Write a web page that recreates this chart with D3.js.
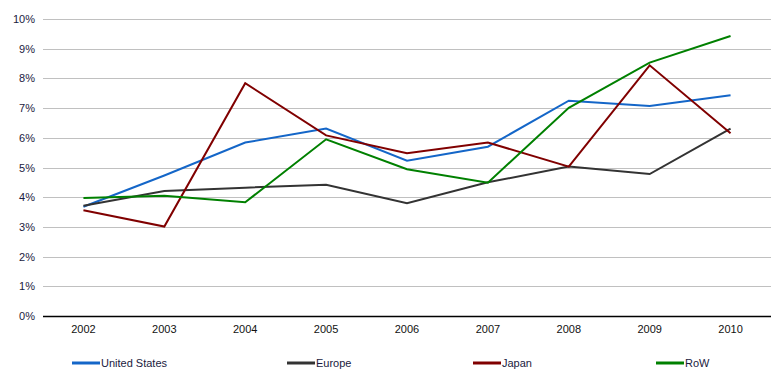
<!DOCTYPE html>
<html>
<head>
<meta charset="utf-8">
<script src="https://cdn.jsdelivr.net/npm/d3@7"></script>
<style>
  body { margin: 0; background: #fff; }
  text { font-family: "Liberation Sans", Arial, sans-serif; font-size: 11px; fill: #111; }
</style>
</head>
<body>
<div id="chart"></div>
<script>
var years = ["2002", "2003", "2004", "2005", "2006", "2007", "2008", "2009", "2010"];
var yTicks = [0, 1, 2, 3, 4, 5, 6, 7, 8, 9, 10];
var unitedStates = [3.68, 4.73, 5.84, 6.31, 5.23, 5.70, 7.25, 7.07, 7.43];
var europe = [3.71, 4.21, 4.32, 4.42, 3.80, 4.50, 5.03, 4.78, 6.31];
var japan = [3.56, 3.01, 7.84, 6.08, 5.48, 5.84, 5.03, 8.44, 6.15];
var row = [3.97, 4.05, 3.83, 5.95, 4.94, 4.49, 7.01, 8.53, 9.43];

var series = [
    {name: "United States", values: unitedStates, color: "#1466c8", lx: 72},
    {name: "Europe", values: europe, color: "#333333", lx: 287},
    {name: "Japan", values: japan, color: "#800000", lx: 473},
    {name: "RoW", values: row, color: "#008000", lx: 656}
];

var width = 776,
    height = 374;

var svg = d3.select('#chart')
    .append('svg')
    .attr('width', width)
    .attr('height', height);

var x = d3.scaleBand().domain(years).range([43, 771]);
var y = d3.scaleLinear().domain([0, 10]).range([316, 19]);

// gridlines
svg.selectAll('line.grid')
    .data(yTicks.filter(function(d) { return d > 0; }))
    .enter().append('line')
    .attr('class', 'grid')
    .attr('x1', 43).attr('x2', 771)
    .attr('y1', function(d) { return Math.round(y(d)) + 0.5; })
    .attr('y2', function(d) { return Math.round(y(d)) + 0.5; })
    .attr('stroke', '#c0c0c0')
    .attr('stroke-width', 1);

// y labels
svg.selectAll('text.ylab')
    .data(yTicks)
    .enter().append('text')
    .attr('class', 'ylab')
    .attr('x', 35)
    .attr('y', function(d) { return y(d) + 4; })
    .attr('text-anchor', 'end')
    .style('fill', '#1a1a40')
    .text(function(d) { return d + '%'; });

// x axis
svg.append('line')
    .attr('x1', 43).attr('x2', 771)
    .attr('y1', 316.5).attr('y2', 316.5)
    .attr('stroke', '#000')
    .attr('stroke-width', 1.5);

svg.selectAll('text.xlab')
    .data(years)
    .enter().append('text')
    .attr('class', 'xlab')
    .attr('x', function(d) { return x(d) + x.bandwidth() / 2; })
    .attr('y', 333)
    .attr('text-anchor', 'middle')
    .text(function(d) { return d; });

var line = d3.line()
    .x(function(d, i) { return x(years[i]) + x.bandwidth() / 2; })
    .y(function(d) { return y(d); });

svg.selectAll('path.series')
    .data(series)
    .enter().append('path')
    .attr('class', 'series')
    .attr('d', function(d) { return line(d.values); })
    .attr('fill', 'none')
    .attr('stroke', function(d) { return d.color; })
    .attr('stroke-width', 2);

// legend
var leg = svg.selectAll('g.legend')
    .data(series)
    .enter().append('g')
    .attr('class', 'legend')
    .attr('transform', function(d) { return 'translate(' + d.lx + ',363)'; });

leg.append('line')
    .attr('x1', 0).attr('x2', 28)
    .attr('y1', 0).attr('y2', 0)
    .attr('stroke', function(d) { return d.color; })
    .attr('stroke-width', 3);

leg.append('text')
    .attr('x', 29)
    .attr('y', 4)
    .style('fill', '#1a1a40')
    .text(function(d) { return d.name; });
</script>
</body>
</html>
